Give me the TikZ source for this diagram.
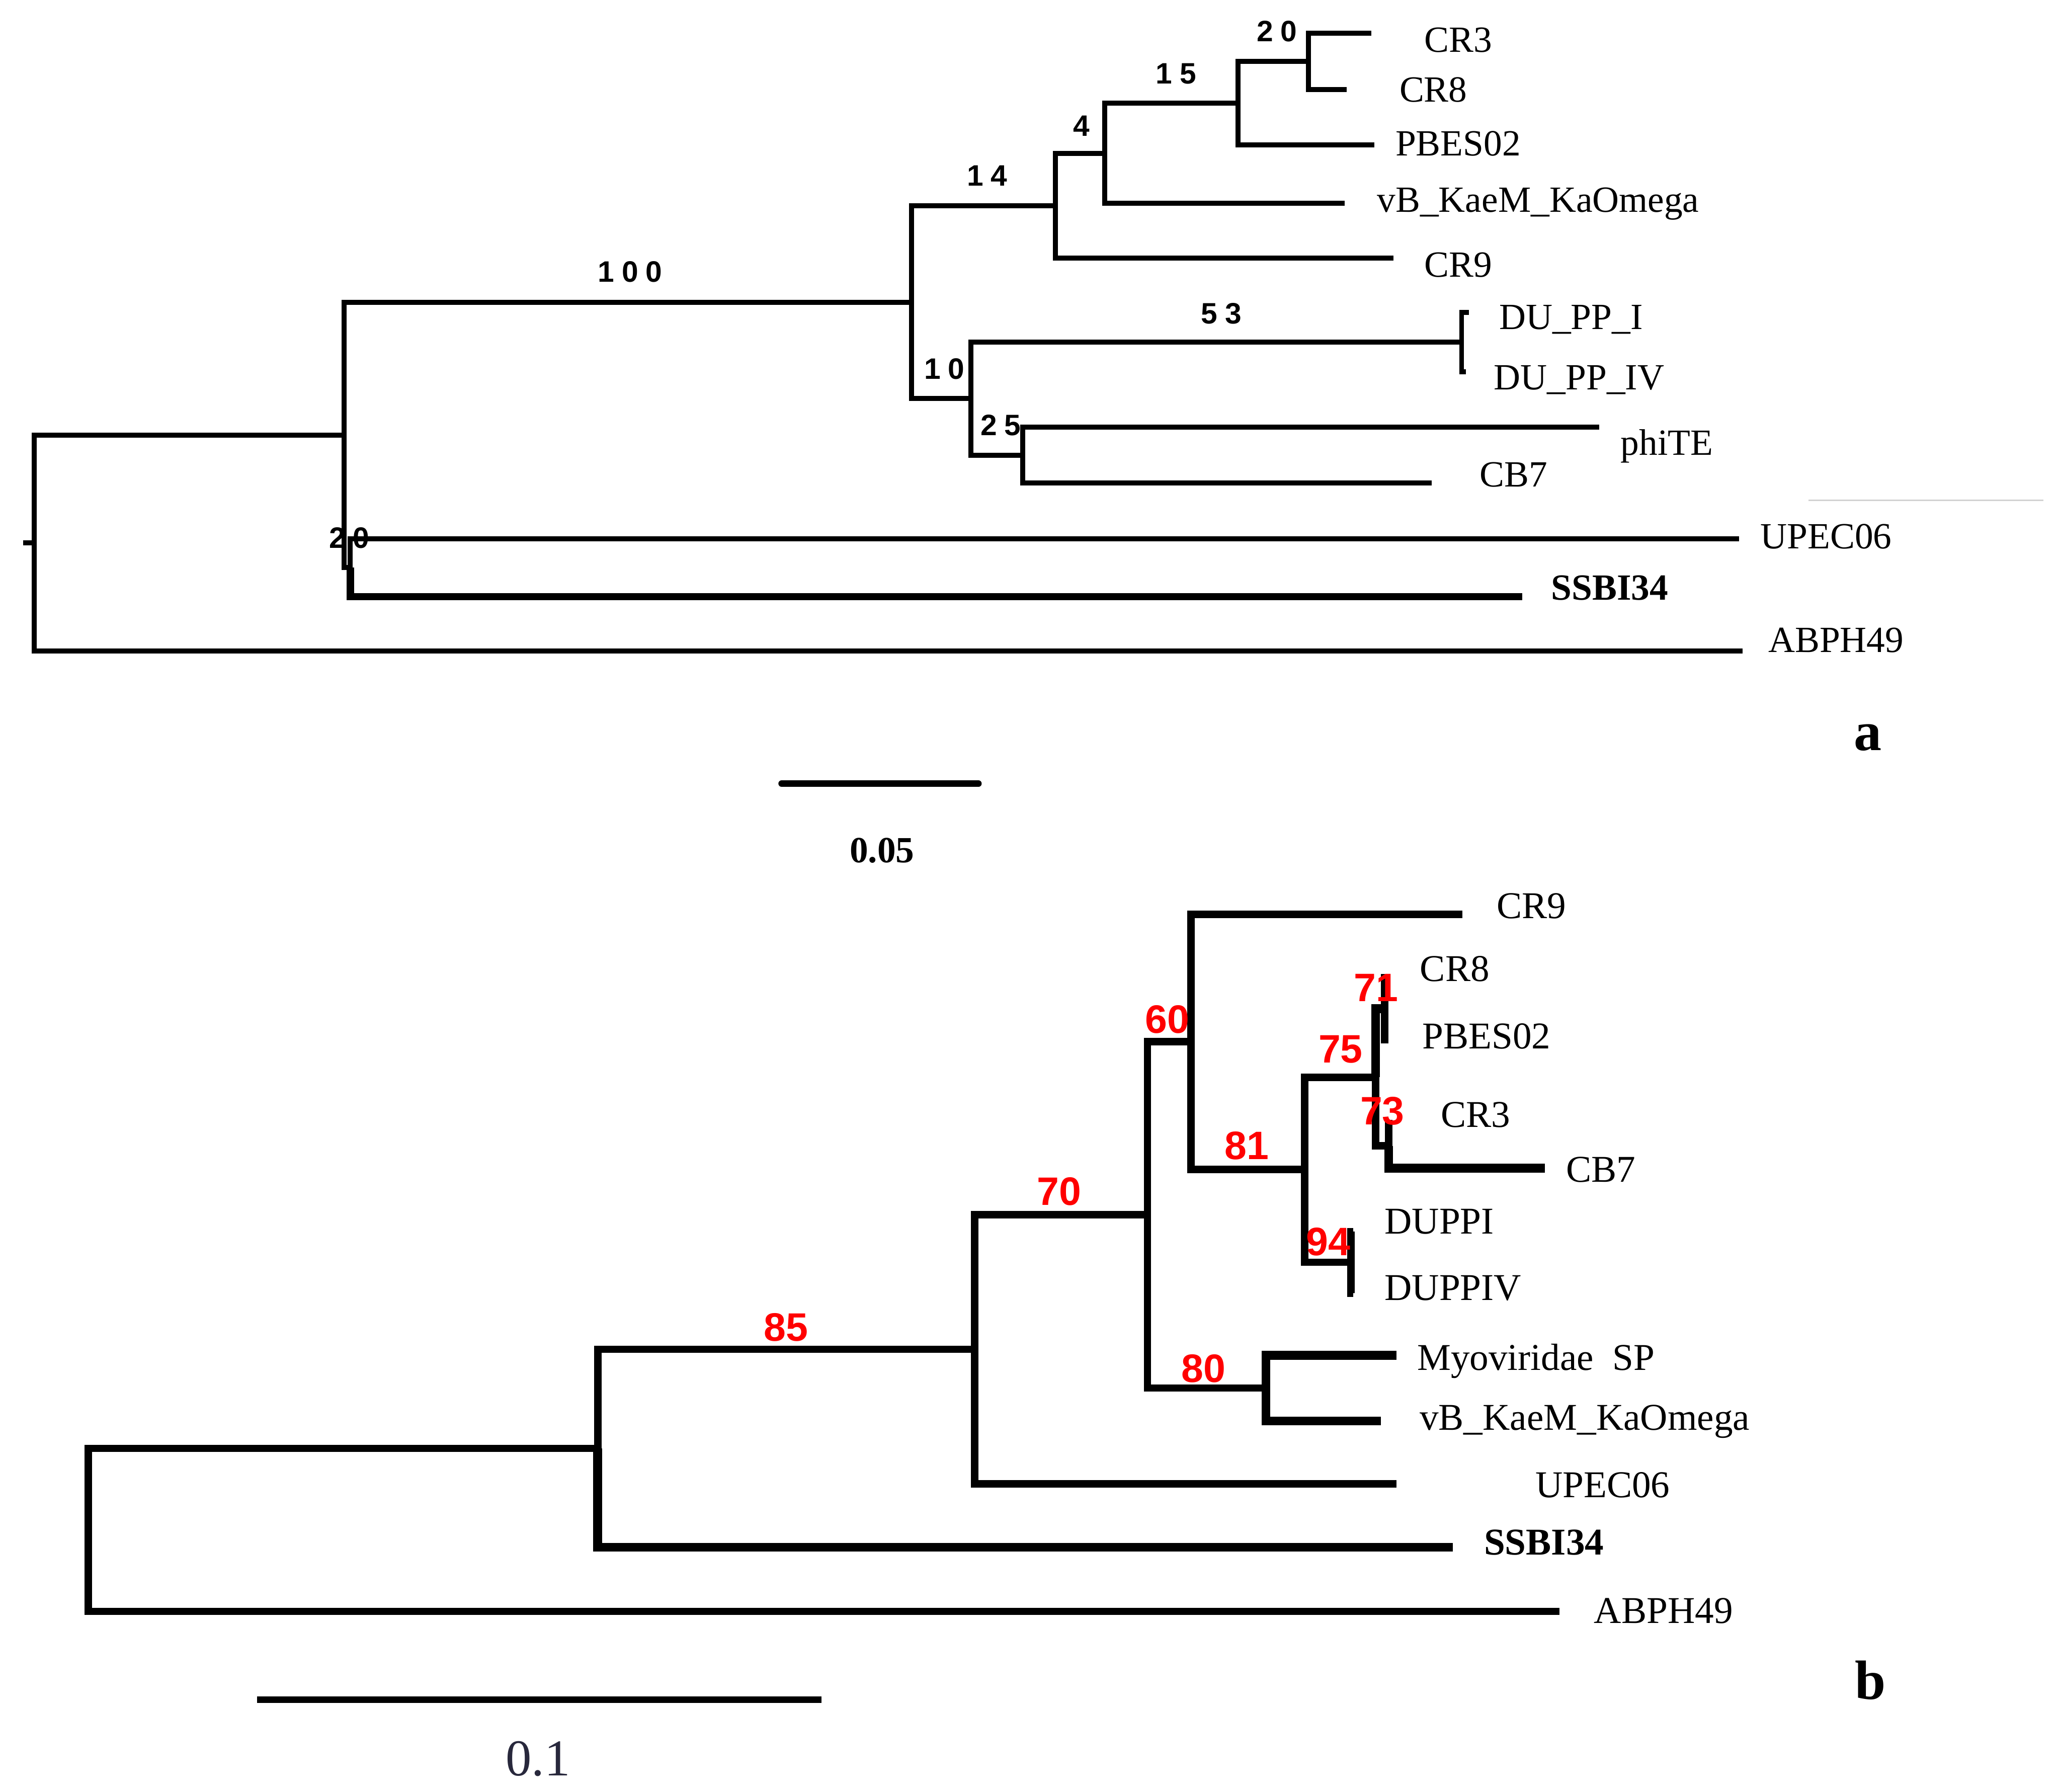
\documentclass[tikz,border=0pt]{standalone}
\usepackage{fontspec}
\setmainfont{Liberation Serif}
\newfontfamily\bsfont{Liberation Sans}[LetterSpace=25]
\newfontfamily\redfont{Liberation Sans}
\begin{document}
\begin{tikzpicture}[x=0.025cm,y=-0.025cm,
  bra/.style={line width=2.7pt},
  brat/.style={line width=3.9pt},
  brb/.style={line width=4pt},
  brbt/.style={line width=4.8pt},
  leafa/.style={anchor=base west,inner sep=0pt,font=\fontsize{20}{24}\selectfont},
  leafb/.style={anchor=base west,inner sep=0pt,font=\fontsize{20.5}{24}\selectfont},
  bsa/.style={inner sep=0pt,font=\bsfont\bfseries\fontsize{16}{19}\selectfont},
  bsb/.style={inner sep=0pt,text=red,font=\redfont\bfseries\fontsize{21.5}{24}\selectfont},
  panel/.style={inner sep=0pt,font=\bfseries\fontsize{30}{34}\selectfont}]
\useasboundingbox (0,0) rectangle (1568,1365);
\fill[white] (0,0) rectangle (1568,1365);

% ================= Panel a =================
\coordinate (aStub) at (17.5,413.7);
\coordinate (aR) at (26.1,413.7);
\coordinate (aN0) at (262.2,331.4);
\coordinate (aN100) at (694.5,230.2);
\coordinate (aN14) at (804,156.8);
\coordinate (aN4) at (841.7,116.75);
\coordinate (aN15) at (943.4,78.6);
\coordinate (aN20) at (997,46.85);
\coordinate (aN10) at (739.6,303.7);
\coordinate (aN53) at (1113.6,260.7);
\coordinate (aN25) at (779.3,346.8);
\coordinate (aN20b) at (266.9,432.5);
% leaf ends
\coordinate (aeCR3) at (1045,25.3);
\coordinate (aeCR8) at (1026,68.4);
\coordinate (aePB) at (1047,110.4);
\coordinate (aeVB) at (1024.6,154.9);
\coordinate (aeCR9) at (1061.8,196.8);
\coordinate (aeDU1) at (1119,238);
\coordinate (aeDU4) at (1117,283.3);
\coordinate (aePhi) at (1218.3,325.5);
\coordinate (aeCB7) at (1090.7,368.1);
\coordinate (aeUP) at (1324.8,410.5);
\coordinate (aeSS) at (1159.8,454.6);
\coordinate (aeAB) at (1327.7,496);

\draw[bra] (aStub) -- (aR);
\draw[bra] (aR) |- (aN0);
\draw[bra] (aR) |- (aeAB);
\draw[bra] (aN0) |- (aN100);
\draw[bra] (aN0) |- (aN20b);
\draw[bra] (aN20b) |- (aeUP);
\draw[brat] (aN20b) |- (aeSS);
\draw[bra] (aN100) |- (aN14);
\draw[bra] (aN100) |- (aN10);
\draw[bra] (aN14) |- (aN4);
\draw[bra] (aN14) |- (aeCR9);
\draw[bra] (aN4) |- (aN15);
\draw[bra] (aN4) |- (aeVB);
\draw[bra] (aN15) |- (aN20);
\draw[bra] (aN15) |- (aePB);
\draw[bra] (aN20) |- (aeCR3);
\draw[bra] (aN20) |- (aeCR8);
\draw[bra] (aN10) |- (aN53);
\draw[bra] (aN10) |- (aN25);
\draw[bra] (aN53) |- (aeDU1);
\draw[bra] (aN53) |- (aeDU4);
\draw[bra] (aN25) |- (aePhi);
\draw[bra] (aN25) |- (aeCB7);

% leaf labels a
\node[leafa] (taCR3) at (1085,39.5) {CR3};
\node[leafa] (taCR8) at (1066,77.7) {CR8};
\node[leafa] (taPB) at (1063,118.8) {PBES02};
\node[leafa] (taVB) at (1049,161.5) {vB\_KaeM\_KaOmega};
\node[leafa] (taCR9) at (1085,211) {CR9};
\node[leafa] (taDU1) at (1142,251) {DU\_PP\_I};
\node[leafa] (taDU4) at (1138,297) {DU\_PP\_IV};
\node[leafa] (taPhi) at (1234.6,346.5) {phiTE};
\node[leafa] (taCB7) at (1127,371) {CB7};
\node[leafa] (taUP) at (1341,418) {UPEC06};
\node[leafa,font=\bfseries\fontsize{20}{24}\selectfont] (taSS) at (1181.7,457) {SSBI34};
\node[leafa] (taAB) at (1347,497) {ABPH49};

% bootstrap a
\node[bsa] (ba20) at (973,24) {20};
\node[bsa] (ba15) at (896,56) {15};
\node[bsa] (ba4) at (824,96) {4};
\node[bsa] (ba14) at (752,134) {14};
\node[bsa] (ba100) at (480,207) {100};
\node[bsa] (ba53) at (930.5,239) {53};
\node[bsa] (ba10) at (719.5,281) {10};
\node[bsa] (ba25) at (762.5,324) {25};
\node[bsa] (ba20b) at (266,410) {20};

% artefact line
\draw[gray!35,line width=0.8pt] (1378,381) -- (1557,381);

% panel label and scale a
\node[panel] (pa) at (1423,562) {a};
\coordinate (sa1) at (595.5,597);
\coordinate (sa2) at (745.5,597);
\draw[line width=3.5pt,line cap=round] (sa1) -- (sa2);
\node[inner sep=0pt,font=\bfseries\fontsize{20}{24}\selectfont] (sal) at (672,648) {0.05};

% ================= Panel b =================
\coordinate (bR) at (67.2,1165.5);
\coordinate (bNs) at (455.4,1103.4);
\coordinate (bN85) at (742.7,1028);
\coordinate (bN70) at (874.2,925.5);
\coordinate (bN60) at (907.5,793.5);
\coordinate (bN81) at (994,891);
\coordinate (bN75) at (1048,820.7);
\coordinate (bN71) at (1055,768.5);
\coordinate (bN73) at (1058,873);
\coordinate (bN94) at (1029.3,961.7);
\coordinate (bN80) at (964.5,1057.5);
% leaf ends
\coordinate (beCR9) at (1114,696.7);
\coordinate (beCR8) at (1058,745);
\coordinate (bePB) at (1058,792);
\coordinate (beCR3) at (1061,856);
\coordinate (beCB7) at (1177,890);
\coordinate (beDU1) at (1031,938.3);
\coordinate (beDU4) at (1031,985.2);
\coordinate (beMy) at (1063.8,1032.5);
\coordinate (beVB) at (1052.2,1082.5);
\coordinate (beUP) at (1064,1130.5);
\coordinate (beSS) at (1107,1178.8);
\coordinate (beAB) at (1188,1227.7);

\draw[brb] (bR) |- (bNs);
\draw[brb] (bR) |- (beAB);
\draw[brb] (bNs) |- (bN85);
\draw[brbt] (bNs) |- (beSS);
\draw[brb] (bN85) |- (bN70);
\draw[brb] (bN85) |- (beUP);
\draw[brb] (bN70) |- (bN60);
\draw[brb] (bN70) |- (bN80);
\draw[brb] (bN60) |- (beCR9);
\draw[brb] (bN60) |- (bN81);
\draw[brb] (bN81) |- (bN75);
\draw[brb] (bN81) |- (bN94);
\draw[brbt] (bN75) |- (bN71);
\draw[brb] (bN75) |- (bN73);
\draw[brb] (bN71) |- (beCR8);
\draw[brb] (bN71) |- (bePB);
\draw[brb] (bN73) |- (beCR3);
\draw[brbt] (bN73) |- (beCB7);
\draw[brb] (bN94) |- (beDU1);
\draw[brb] (bN94) |- (beDU4);
\draw[brbt] (bN80) |- (beMy);
\draw[brbt] (bN80) |- (beVB);

% leaf labels b
\node[leafb] (tbCR9) at (1140,699.5) {CR9};
\node[leafb] (tbCR8) at (1081.7,747.4) {CR8};
\node[leafb] (tbPB) at (1083.4,799) {PBES02};
\node[leafb] (tbCR3) at (1097.6,858.8) {CR3};
\node[leafb] (tbCB7) at (1193,900.5) {CB7};
\node[leafb] (tbDU1) at (1054.7,940) {DUPPI};
\node[leafb] (tbDU4) at (1054.7,990.7) {DUPPIV};
\node[leafb] (tbMy) at (1079.5,1044) {Myoviridae\ \ SP};
\node[leafb] (tbVB) at (1081.4,1089.5) {vB\_KaeM\_KaOmega};
\node[leafb] (tbUP) at (1169.5,1140.8) {UPEC06};
\node[leafb,font=\bfseries\fontsize{20.5}{24}\selectfont] (tbSS) at (1130.4,1184.7) {SSBI34};
\node[leafb] (tbAB) at (1214.3,1236.5) {ABPH49};

% bootstrap b
\node[bsb] (bb60) at (889.4,776.7) {60};
\node[bsb] (bb70) at (806.9,907.6) {70};
\node[bsb] (bb85) at (599,1011.4) {85};
\node[bsb] (bb80) at (917,1042.6) {80};
\node[bsb] (bb81) at (950,872.8) {81};
\node[bsb] (bb75) at (1021.4,799.4) {75};
\node[bsb] (bb71) at (1048.4,752.4) {71};
\node[bsb] (bb73) at (1053.2,846.4) {73};
\node[bsb] (bb94) at (1012,946.1) {94};

% panel label and scale b
\node[panel] (pb) at (1425,1280) {b};
\coordinate (sb1) at (196,1295);
\coordinate (sb2) at (626,1295);
\draw[line width=3.6pt] (sb1) -- (sb2);
\node[inner sep=0pt,text={rgb,255:red,40;green,40;blue,60},font=\fontsize{28}{32}\selectfont] (sbl) at (410,1340) {0.1};
\end{tikzpicture}
\end{document}
